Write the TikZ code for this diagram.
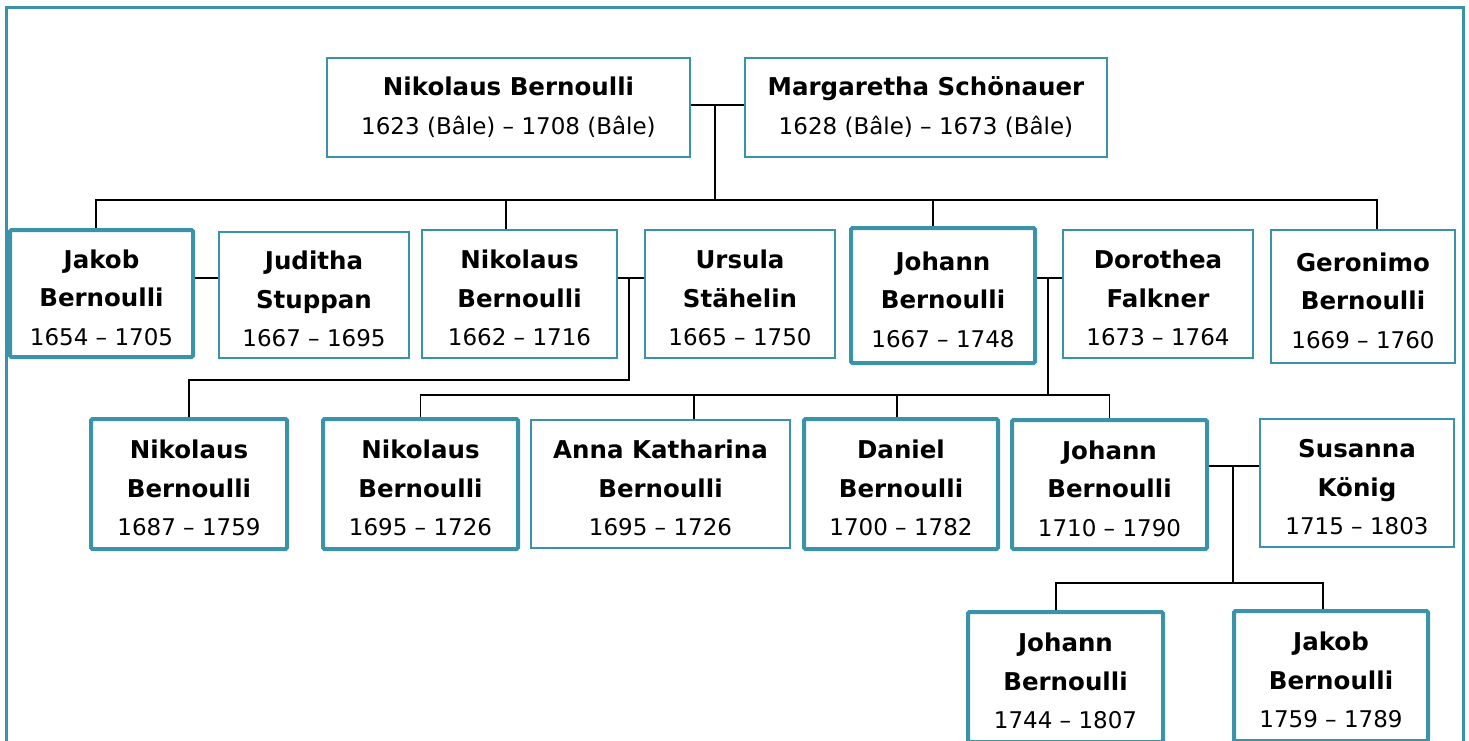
\documentclass[tikz,border=0pt]{standalone}
\usepackage{fontspec}
\setmainfont{DejaVu Sans}
\usetikzlibrary{calc}
\definecolor{tealline}{RGB}{58,147,168}
\newcommand{\yrs}[1]{{\fontsize{23}{38.5}\selectfont #1}}

\begin{document}
\begin{tikzpicture}[x=1pt,y=-1pt,
  person/.style={draw=tealline, line width=2pt, fill=white, align=center, inner sep=0pt,
    minimum height=128pt, text height=104pt, font=\fontsize{24.5}{38.5}\selectfont},
  bern/.style={person, line width=4pt, rounded corners=1.5pt},
  link/.style={line width=1.8pt, black}]
\useasboundingbox (0,0) rectangle (1469,740);
\clip (0,0) rectangle (1469,740);

% Frame
\draw[tealline, line width=3pt] (6,760) -- (6,7) -- (1463,7) -- (1463,760);

% Parents
\node[person, minimum width=363pt, minimum height=99pt, text height=57pt] (nb0) at (508.5,107.5) {\textbf{Nikolaus Bernoulli}\\\yrs{1623 (Bâle) – 1708 (Bâle)}};
\node[person, minimum width=362pt, minimum height=99pt, text height=57pt] (mg0) at (926,107.5) {\textbf{Margaretha Schönauer}\\\yrs{1628 (Bâle) – 1673 (Bâle)}};

% Children and spouses
\node[bern, minimum width=183pt, minimum height=127pt] (jakob) at (101.5,293.5) {\textbf{Jakob}\\\textbf{Bernoulli}\\\yrs{1654 – 1705}};
\node[person, minimum width=190pt, minimum height=126pt] (juditha) at (314,295) {\textbf{Juditha}\\\textbf{Stuppan}\\\yrs{1667 – 1695}};
\node[person, minimum width=195pt] (nikolaus) at (519.5,294) {\textbf{Nikolaus}\\\textbf{Bernoulli}\\\yrs{1662 – 1716}};
\node[person, minimum width=190pt] (ursula) at (740,294) {\textbf{Ursula}\\\textbf{Stähelin}\\\yrs{1665 – 1750}};
\node[bern, minimum width=184pt, minimum height=135pt] (johann) at (943,295.5) {\textbf{Johann}\\\textbf{Bernoulli}\\\yrs{1667 – 1748}};
\node[person, minimum width=190pt] (dorothea) at (1158,294) {\textbf{Dorothea}\\\textbf{Falkner}\\\yrs{1673 – 1764}};
\node[person, minimum width=184pt, minimum height=133pt] (geronimo) at (1363,296.5) {\textbf{Geronimo}\\\textbf{Bernoulli}\\\yrs{1669 – 1760}};

% Grandchildren
\node[bern, minimum width=196pt, minimum height=130pt] (nik1687) at (189,484) {\textbf{Nikolaus}\\\textbf{Bernoulli}\\\yrs{1687 – 1759}};
\node[bern, minimum width=195pt, minimum height=130pt] (nik1695) at (420.5,484) {\textbf{Nikolaus}\\\textbf{Bernoulli}\\\yrs{1695 – 1726}};
\node[person, minimum width=259pt] (anna) at (660.5,484) {\textbf{Anna Katharina}\\\textbf{Bernoulli}\\\yrs{1695 – 1726}};
\node[bern, minimum width=194pt, minimum height=130pt] (daniel) at (901,484) {\textbf{Daniel}\\\textbf{Bernoulli}\\\yrs{1700 – 1782}};
\node[bern, minimum width=195pt, minimum height=129pt] (joh1710) at (1109.5,484.5) {\textbf{Johann}\\\textbf{Bernoulli}\\\yrs{1710 – 1790}};
\node[person, minimum width=194pt] (susanna) at (1357,483) {\textbf{Susanna}\\\textbf{König}\\\yrs{1715 – 1803}};

% Great-grandchildren
\node[bern, minimum width=195pt, minimum height=130pt] (joh1744) at (1065.5,677) {\textbf{Johann}\\\textbf{Bernoulli}\\\yrs{1744 – 1807}};
\node[bern, minimum width=194pt, minimum height=130pt] (jak1759) at (1331,676) {\textbf{Jakob}\\\textbf{Bernoulli}\\\yrs{1759 – 1789}};

% Marriage points and bars
\coordinate (m0) at (715,105);
\coordinate (bar1) at (715,200);
\coordinate (m1) at (629,278);
\coordinate (bar2) at (629,380);
\coordinate (m2) at (1048,278);
\coordinate (bar3) at (1048,395);
\coordinate (m3) at (1233,466);
\coordinate (bar4) at (1233,583);

% Links
\draw[link] (m0 -| nb0.east) -- (m0 -| mg0.west);
\draw[link] (m0) -- (bar1);
\draw[link] ([xshift=-5.5pt]jakob.north) |- ([xshift=14pt]geronimo.north |- bar1) -- ([xshift=14pt]geronimo.north);
\draw[link] ([xshift=-13.5pt]nikolaus.north) -- ([xshift=-13.5pt]nikolaus.north |- bar1);
\draw[link] ([xshift=-10pt]johann.north) -- ([xshift=-10pt]johann.north |- bar1);

\draw[link] (m1 -| jakob.east) -- (m1 -| juditha.west);
\draw[link] (m1 -| nikolaus.east) -- (m1 -| ursula.west);
\draw[link] (m1) -- (bar2) -| (nik1687.north);

\draw[link] (m2 -| johann.east) -- (m2 -| dorothea.west);
\draw[link] (m2) -- (bar3);
\draw[link] (nik1695.north) |- (joh1710.north |- bar3) -- (joh1710.north);
\draw[link] ([xshift=33.5pt]anna.north) -- ([xshift=33.5pt]anna.north |- bar3);
\draw[link] ([xshift=-4pt]daniel.north) -- ([xshift=-4pt]daniel.north |- bar3);

\draw[link] (m3 -| joh1710.east) -- (m3 -| susanna.west);
\draw[link] (m3) -- (bar4);
\draw[link] ([xshift=-9.5pt]joh1744.north) |- ([xshift=-8pt]jak1759.north |- bar4) -- ([xshift=-8pt]jak1759.north);
\end{tikzpicture}
\end{document}
